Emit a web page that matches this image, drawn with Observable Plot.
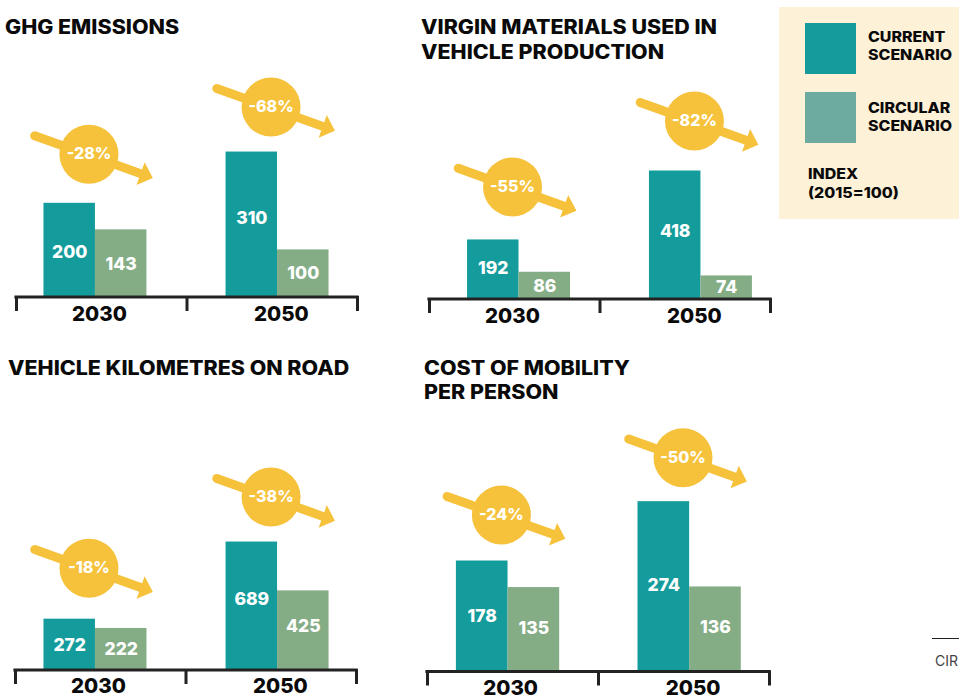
<!doctype html>
<html>
<head>
<meta charset="utf-8">
<script src="https://cdn.jsdelivr.net/npm/d3@7"></script>
<script src="https://cdn.jsdelivr.net/npm/@observablehq/plot@0.6"></script>
<style>
  html, body { margin: 0; padding: 0; background: #fff; }
  body { font-family: Inter, sans-serif; color: #0a0a0a; }
  #page { position: relative; width: 959px; height: 696px; overflow: hidden; }
  #page svg { position: absolute; overflow: visible; background: transparent; }
  .title { position: absolute; font-size: 19.5px; line-height: 24.5px; font-weight: 800; white-space: nowrap; transform: scaleX(1.1); transform-origin: left center; }
  #legend { position: absolute; left: 779px; top: 7px; width: 180px; height: 212px; background: #fdf1d8; }
  .swatch { position: absolute; left: 26px; width: 51px; height: 51px; }
  .ltext { position: absolute; font-size: 14.5px; line-height: 17.5px; font-weight: 800; white-space: nowrap; transform: scaleX(1.1); transform-origin: left center; }
  #source-rule { position: absolute; left: 932px; top: 638px; width: 27px; height: 1px; background: #222; }
  #source { position: absolute; left: 935px; top: 653px; font-size: 14px; line-height: 16px; color: #444; white-space: nowrap; }
</style>
</head>
<body>
<div id="page"></div>
<script>
const years = [2030, 2050];

const ghgCurrent = [200, 310];
const ghgCircular = [143, 100];
const ghgChange = ["-28%", "-68%"];

const materialsCurrent = [192, 418];
const materialsCircular = [86, 74];
const materialsChange = ["-55%", "-82%"];

const kilometresCurrent = [272, 689];
const kilometresCircular = [222, 425];
const kilometresChange = ["-18%", "-38%"];

const costCurrent = [178, 274];
const costCircular = [135, 136];
const costChange = ["-24%", "-50%"];

// Colours
const teal = "#149c9c";
const green = "#84ad86";
const legendGreen = "#6daaa0";
const gold = "#f6c23c";
const ink = "#0a0a0a";
const bracketInk = "#222";

// Layout of each panel, in the page's pixels, kept apart from the values
const panels = [
  { title: ["GHG EMISSIONS"], titleAt: [5, 15],
    current: ghgCurrent, circular: ghgCircular, change: ghgChange,
    left: 0, top: 0, w: 400, h: 340,
    from: 16, to: 357, base: 296, pxPerUnit: 0.466,
    lead: [0.161, 0.229], lift: [49, 45], curNudge: [2.5, -5.5], cirNudge: [1, 0], yearDy: 18 },
  { title: ["VIRGIN MATERIALS USED IN", "VEHICLE PRODUCTION"], titleAt: [421, 15],
    current: materialsCurrent, circular: materialsCircular, change: materialsChange,
    left: 400, top: 0, w: 379, h: 340,
    from: 429, to: 770, base: 298, pxPerUnit: 0.305,
    lead: [0.223, 0.29], lift: [53, 50], curNudge: [-1, -3], cirNudge: [1, 0], yearDy: 18 },
  { title: ["VEHICLE KILOMETRES ON ROAD"], titleAt: [8, 356],
    current: kilometresCurrent, circular: kilometresCircular, change: kilometresChange,
    left: 0, top: 340, w: 400, h: 356,
    from: 15, to: 356, base: 669, pxPerUnit: 0.185,
    lead: [0.167, 0.235], lift: [51, 45], curNudge: [1, -6], cirNudge: [0, -3.5], yearDy: 16.5 },
  { title: ["COST OF MOBILITY", "PER PERSON"], titleAt: [424, 355.5],
    current: costCurrent, circular: costCircular, change: costChange,
    left: 400, top: 340, w: 400, h: 356,
    from: 427, to: 769, base: 670.5, pxPerUnit: 0.618,
    lead: [0.169, 0.231], lift: [46, 44], curNudge: [0.5, -0.5], cirNudge: [-1, -2], yearDy: 17.5 }
];

const barWidth = 0.302;          // share of one bracket
const yearAt = [0.486, 1.553];   // bracket units
const bracketTicks = [0, 1, 2];
const bracketDrop = 15;          // pixels
const font = "Inter, sans-serif";

// Filled arrow with a round tail, pointing up before Plot rotates it
const arrowShape = {
  draw(context, l) {
    const w = 4.5, head = 13, wing = 12;
    context.arc(0, -w, w, 0, Math.PI);
    context.lineTo(-w, head - l);
    context.lineTo(-wing, head - l);
    context.lineTo(0, -l);
    context.lineTo(wing, head - l);
    context.lineTo(w, head - l);
    context.closePath();
  }
};

const page = document.getElementById("page");

for (const p of panels) {
  const rows = years.map((year, i) => ({
    year, i,
    start: i + p.lead[i],
    current: p.current[i],
    circular: p.circular[i],
    change: p.change[i],
    badgeY: p.current[i] + p.lift[i] / p.pxPerUnit,
    curLabelY: p.current[i] / 2 - p.curNudge[i] / p.pxPerUnit,
    cirLabelY: p.circular[i] / 2 - p.cirNudge[i] / p.pxPerUnit,
    yearX: yearAt[i]
  }));
  const baseInBox = p.base - p.top;

  const chart = Plot.plot({
    width: p.w,
    height: p.h,
    marginLeft: p.from - p.left,
    marginRight: p.left + p.w - p.to,
    marginTop: 0,
    marginBottom: p.h - baseInBox,
    style: { background: "transparent", fontFamily: font, overflow: "visible" },
    x: { domain: [0, 2], axis: null },
    y: { domain: [0, baseInBox / p.pxPerUnit], axis: null },
    marks: [
      Plot.rectY(rows, { x1: "start", x2: d => d.start + barWidth, y1: 0, y2: "current", fill: teal }),
      Plot.rectY(rows, { x1: d => d.start + barWidth, x2: d => d.start + 2 * barWidth, y1: 0, y2: "circular", fill: green }),
      Plot.text(rows, { x: d => d.start + barWidth / 2, y: "curLabelY", text: d => String(d.current),
        fill: "white", fontSize: 17.5, fontWeight: 800 }),
      Plot.text(rows, { x: d => d.start + 1.5 * barWidth, y: "cirLabelY", text: d => String(d.circular),
        fill: "white", fontSize: 17.5, fontWeight: 800 }),
      Plot.vector(rows, { x: "start", y: "badgeY", dx: 47.7, dy: 1.8, length: 130, rotate: 109.7,
        anchor: "middle", shape: arrowShape, fill: gold, stroke: "none" }),
      Plot.dot(rows, { x: "start", y: "badgeY", dx: 45, r: 29.5, fill: gold, stroke: "none" }),
      Plot.text(rows, { x: "start", y: "badgeY", dx: 45, text: "change",
        fill: "white", fontSize: 16, fontWeight: 800 }),
      Plot.ruleY([0], { x1: 0, x2: 2, stroke: bracketInk, strokeWidth: 3.2, strokeLinecap: "square", dy: 0.5 }),
      Plot.ruleX(bracketTicks, { y1: 0, y2: -bracketDrop / p.pxPerUnit, stroke: bracketInk, strokeWidth: 3 }),
      Plot.text(rows, { x: "yearX", y: 0, dy: p.yearDy, text: d => String(d.year),
        fill: ink, fontSize: 20.5, fontWeight: 800 })
    ]
  });
  chart.style.left = p.left + "px";
  chart.style.top = p.top + "px";
  page.appendChild(chart);

  const title = document.createElement("div");
  title.className = "title";
  title.style.left = p.titleAt[0] + "px";
  title.style.top = p.titleAt[1] + "px";
  title.innerHTML = p.title.join("<br>");
  page.appendChild(title);
}

// Legend
const legendItems = [
  { colour: teal, lines: ["CURRENT", "SCENARIO"], swatchTop: 16, textTop: 21 },
  { colour: legendGreen, lines: ["CIRCULAR", "SCENARIO"], swatchTop: 85, textTop: 92 }
];
const legend = document.createElement("div");
legend.id = "legend";
for (const item of legendItems) {
  const s = document.createElement("div");
  s.className = "swatch";
  s.style.top = item.swatchTop + "px";
  s.style.background = item.colour;
  legend.appendChild(s);
  const t = document.createElement("div");
  t.className = "ltext";
  t.style.left = "89px";
  t.style.top = item.textTop + "px";
  t.innerHTML = item.lines.join("<br>");
  legend.appendChild(t);
}
const note = document.createElement("div");
note.className = "ltext";
note.style.left = "29px";
note.style.top = "157px";
note.style.lineHeight = "19px";
note.innerHTML = "INDEX<br>(2015=100)";
legend.appendChild(note);
page.appendChild(legend);

const rule = document.createElement("div");
rule.id = "source-rule";
page.appendChild(rule);
const source = document.createElement("div");
source.id = "source";
source.textContent = "CIR";
page.appendChild(source);
</script>
</body>
</html>
